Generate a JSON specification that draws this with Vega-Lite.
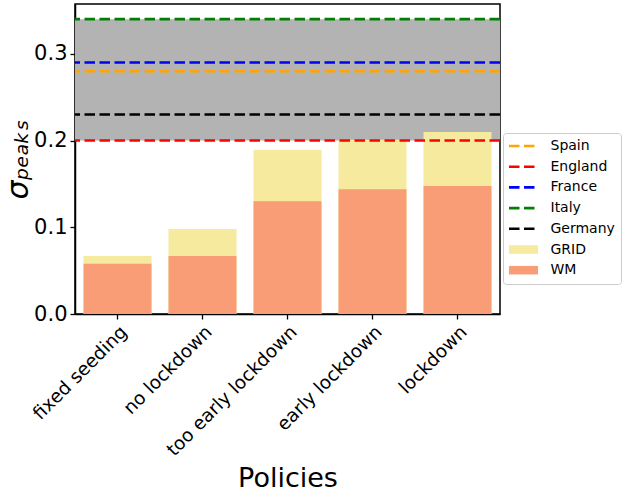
{
  "$schema": "https://vega.github.io/schema/vega-lite/v6.json",
  "width": 425,
  "height": 310,
  "autosize": {"type": "none"},
  "padding": {"left": 75, "top": 4, "right": 125, "bottom": 178},
  "config": {
    "view": {"stroke": "black", "strokeWidth": 1.5},
    "font": "DejaVu Sans",
    "axis": {"domainColor": "black", "domainWidth": 1.5, "tickColor": "black", "tickWidth": 1.3, "tickSize": 5, "labelColor": "black", "titleColor": "black", "grid": false}
  },
  "datasets": {
    "bars": [
      {"policy": "fixed seeding", "series": "GRID", "value": 0.067},
      {"policy": "no lockdown", "series": "GRID", "value": 0.098},
      {"policy": "too early lockdown", "series": "GRID", "value": 0.1895},
      {"policy": "early lockdown", "series": "GRID", "value": 0.201},
      {"policy": "lockdown", "series": "GRID", "value": 0.21},
      {"policy": "fixed seeding", "series": "WM", "value": 0.058},
      {"policy": "no lockdown", "series": "WM", "value": 0.067},
      {"policy": "too early lockdown", "series": "WM", "value": 0.13},
      {"policy": "early lockdown", "series": "WM", "value": 0.144},
      {"policy": "lockdown", "series": "WM", "value": 0.1475}
    ],
    "refs": [
      {"country": "Spain", "value": 0.28},
      {"country": "England", "value": 0.2},
      {"country": "France", "value": 0.29},
      {"country": "Italy", "value": 0.34},
      {"country": "Germany", "value": 0.23}
    ],
    "band": [{"lo": 0.2, "hi": 0.34}]
  },
  "layer": [
    {
      "data": {"name": "band"},
      "mark": {"type": "rect", "color": "#b3b3b3"},
      "encoding": {
        "y": {"field": "lo", "type": "quantitative", "scale": {"domain": [0, 0.3575], "nice": false, "zero": true},
          "axis": {"values": [0, 0.1, 0.2, 0.3], "format": ".1f", "labelFontSize": 21, "labelPadding": 3, "title": "σₚₑₐₖₛ", "titleFontSize": 30, "titleFontStyle": "italic", "titleFontWeight": "normal", "titlePadding": 0}},
        "y2": {"field": "hi"}
      }
    },
    {
      "data": {"name": "bars"},
      "mark": {"type": "bar", "opacity": 1},
      "encoding": {
        "x": {"field": "policy", "type": "nominal", "sort": null,
          "scale": {"paddingInner": 0.2, "paddingOuter": 0.1},
          "axis": {"labelAngle": -45, "labelFontSize": 18.5, "labelPadding": 3, "title": "Policies", "titleFontSize": 27, "titleFontWeight": "normal", "titlePadding": 6}},
        "y": {"field": "value", "type": "quantitative", "stack": null},
        "color": {"field": "series", "type": "nominal"}
      }
    },
    {
      "data": {"name": "refs"},
      "mark": {"type": "rule", "strokeDash": [10.5, 4.5], "strokeWidth": 2.6},
      "encoding": {
        "y": {"field": "value", "type": "quantitative"},
        "color": {
          "field": "country", "type": "nominal",
          "scale": {
            "domain": ["Spain", "England", "France", "Italy", "Germany", "GRID", "WM"],
            "range": ["#ffa500", "#ff0000", "#0000ff", "#008000", "#000000", "#f5ea9e", "#f99d77"]
          },
          "legend": {
            "title": null,
            "orient": "none",
            "legendX": 428,
            "legendY": 129,
            "padding": 6,
            "strokeColor": "#cccccc",
            "fillColor": "white",
            "cornerRadius": 3,
            "symbolType": "stroke",
            "symbolSize": 100,
            "symbolOffset": 7.5,
            "labelFontSize": 14,
            "labelOffset": 20,
            "rowPadding": 6.7,
            "labelColor": "black",
            "encode": {
              "symbols": {
                "update": {
                  "shape": {"signal": "indexof(['GRID','WM'], datum.value) >= 0 ? 'M-2.9,-0.85H2.9V0.85H-2.9Z' : 'M-2.9,0H2.9'"},
                  "stroke": {"signal": "scale('color', datum.value)"},
                  "fill": {"signal": "scale('color', datum.value)"},
                  "strokeOpacity": {"signal": "indexof(['GRID','WM'], datum.value) >= 0 ? 0 : 1"},
                  "fillOpacity": {"signal": "indexof(['GRID','WM'], datum.value) >= 0 ? 1 : 0"},
                  "strokeWidth": {"value": 2.6},
                  "strokeDash": {"value": [10.5, 4.5]},
                  "opacity": {"value": 1}
                }
              }
            }
          }
        }
      }
    }
  ]
}
